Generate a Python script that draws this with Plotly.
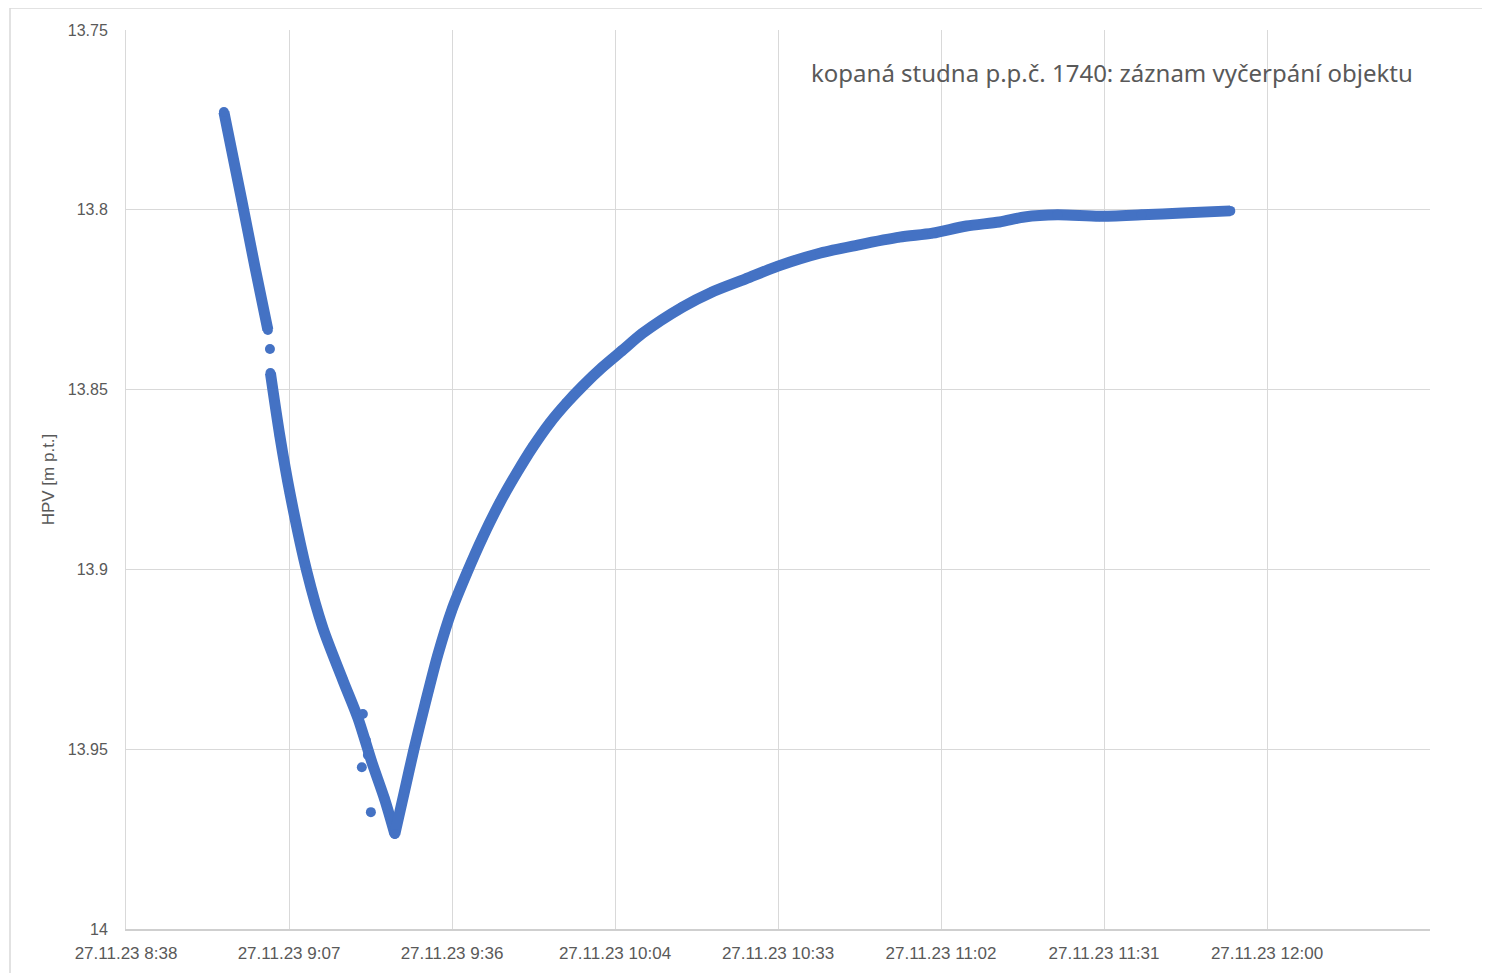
import plotly.graph_objects as go

# Descent before the short logging gap
seg1_time = ["2023-11-27 08:55:42", "2023-11-27 08:58:53", "2023-11-27 09:01:11", "2023-11-27 09:03:28"]
seg1_hpv = [13.7728, 13.7976, 13.8159, 13.8334]

# Descent after the gap down to the minimum
seg2_time = ["2023-11-27 09:03:55", "2023-11-27 09:05:35", "2023-11-27 09:07:22", "2023-11-27 09:10:22",
             "2023-11-27 09:13:11", "2023-11-27 09:16:43", "2023-11-27 09:19:22", "2023-11-27 09:21:50",
             "2023-11-27 09:24:08", "2023-11-27 09:25:54"]
seg2_hpv = [13.8454, 13.8629, 13.8788, 13.9007,
            13.9163, 13.9308, 13.9413, 13.9536,
            13.9641, 13.9736]

# Recovery from the minimum
seg3_time = ["2023-11-27 09:25:54", "2023-11-27 09:27:40", "2023-11-27 09:29:15", "2023-11-27 09:31:12",
             "2023-11-27 09:33:29", "2023-11-27 09:35:58", "2023-11-27 09:38:37", "2023-11-27 09:41:26",
             "2023-11-27 09:44:26", "2023-11-27 09:47:26", "2023-11-27 09:50:16", "2023-11-27 09:53:16",
             "2023-11-27 09:56:16", "2023-11-27 09:59:06", "2023-11-27 10:02:38", "2023-11-27 10:06:10",
             "2023-11-27 10:09:41", "2023-11-27 10:16:46", "2023-11-27 10:21:53", "2023-11-27 10:27:53",
             "2023-11-27 10:33:43", "2023-11-27 10:41:07", "2023-11-27 10:47:40", "2023-11-27 10:55:04",
             "2023-11-27 11:00:54", "2023-11-27 11:06:54", "2023-11-27 11:12:44", "2023-11-27 11:17:09",
             "2023-11-27 11:22:58", "2023-11-27 11:30:23", "2023-11-27 11:37:49", "2023-11-27 11:45:03",
             "2023-11-27 11:53:31"]
seg3_hpv = [13.9736, 13.9613, 13.9502, 13.9377,
            13.9238, 13.9113, 13.9010, 13.8910,
            13.8815, 13.8732, 13.8660, 13.8593,
            13.8537, 13.8490, 13.8437, 13.8390,
            13.8343, 13.8270, 13.8229, 13.8192,
            13.8156, 13.8120, 13.8098, 13.8076,
            13.8065, 13.8045, 13.8034, 13.8020,
            13.8014, 13.8018, 13.8014, 13.8009,
            13.8003]

# Isolated readings (gap dot and scattered points near the minimum)
dot_time = ["2023-11-27 09:03:50", "2023-11-27 09:20:15", "2023-11-27 09:20:47",
            "2023-11-27 09:21:08", "2023-11-27 09:20:04", "2023-11-27 09:21:40"]
dot_hpv = [13.8387, 13.9402, 13.9475, 13.9516, 13.9550, 13.9675]

x_tickvals = ["2023-11-27 08:38:24", "2023-11-27 09:07:12", "2023-11-27 09:36:00", "2023-11-27 10:04:48",
              "2023-11-27 10:33:36", "2023-11-27 11:02:24", "2023-11-27 11:31:12", "2023-11-27 12:00:00"]
x_ticktext = ["27.11.23 8:38", "27.11.23 9:07", "27.11.23 9:36", "27.11.23 10:04",
              "27.11.23 10:33", "27.11.23 11:02", "27.11.23 11:31", "27.11.23 12:00"]
y_tickvals = [13.75, 13.8, 13.85, 13.9, 13.95, 14.0]
y_ticktext = ["13.75", "13.8", "13.85", "13.9", "13.95", "14"]

BLUE = "#4472C4"
GRID = "#d9d9d9"
TXT = "#595959"
NARROW = "Liberation Sans Narrow, Arial Narrow, Liberation Sans, sans-serif"

# page is offset by the 8px body margin; plot area target in screen px: x 126..1430, y 30..929
L, T, PW, PH = 118, 22, 1304, 899

fig = go.Figure()
for t, v in [(seg1_time, seg1_hpv), (seg2_time, seg2_hpv), (seg3_time, seg3_hpv)]:
    fig.add_trace(go.Scatter(x=t, y=v, mode="lines+markers",
                             line=dict(color=BLUE, width=11, shape="spline", smoothing=0.8),
                             marker=dict(color=BLUE, size=10),
                             showlegend=False, hoverinfo="x+y"))
fig.add_trace(go.Scatter(x=dot_time, y=dot_hpv, mode="markers",
                         marker=dict(color=BLUE, size=10), showlegend=False))

fig.update_layout(
    width=1490, height=973,
    margin=dict(l=L, r=1490 - L - PW, t=T, b=973 - T - PH),
    paper_bgcolor="white", plot_bgcolor="white",
    xaxis=dict(type="date", range=["2023-11-27 08:38:24", "2023-11-27 12:28:48"],
               tickmode="array", tickvals=x_tickvals, ticktext=x_ticktext,
               showgrid=True, gridcolor=GRID, gridwidth=1,
               showline=True, linecolor="#cfcfcf", linewidth=1.5,
               zeroline=False, ticks="", ticklabelstandoff=8,
               tickfont=dict(family=NARROW, size=17, color=TXT)),
    yaxis=dict(range=[14.0, 13.75], tickmode="array", tickvals=y_tickvals, ticktext=y_ticktext,
               showgrid=True, gridcolor=GRID, gridwidth=1,
               showline=True, linecolor=GRID, linewidth=1,
               zeroline=False, ticks="", ticklabelstandoff=14,
               tickfont=dict(family=NARROW, size=16, color=TXT),
               title=dict(text="HPV [m p.t.]", standoff=8,
                          font=dict(family=NARROW, size=17, color=TXT))),
    annotations=[dict(text="kopaná studna p.p.č. 1740: záznam vyčerpání objektu",
                      xref="paper", yref="paper", x=(1415 - 126) / PW, y=(929 - 72) / PH,
                      xanchor="right", yanchor="middle", showarrow=False,
                      font=dict(family="Noto Sans, Open Sans, sans-serif", size=24, color=TXT))],
    shapes=[dict(type="rect", xref="paper", yref="paper",
                 x0=(10 - 126) / PW, x1=(1510 - 126) / PW,
                 y0=(929 - 990) / PH, y1=(929 - 8) / PH,
                 line=dict(color="#d9d9d9", width=1.5), fillcolor="rgba(0,0,0,0)", layer="below")],
)

fig.write_html("out.html")
